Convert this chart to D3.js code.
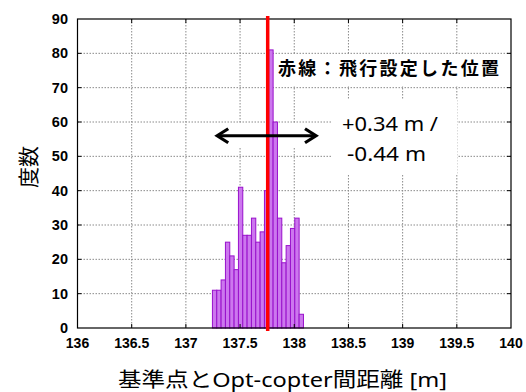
<!DOCTYPE html>
<html><head><meta charset="utf-8">
<script src="https://cdn.jsdelivr.net/npm/d3@7"></script>
<style>body{margin:0;background:#fff}svg{display:block}</style>
</head><body>
<script>
// ---- data ----
const binLower = [137.245,137.285,137.325,137.365,137.405,137.445,137.485,137.525,137.565,137.605,137.645,137.685,137.725,137.765,137.805,137.845,137.885,137.925,137.965,138.005,138.045];
const binWidth = 0.04;
const counts = [11,11,14,25,21,17,41,27,27,32,25,28,40,81,60,32,19,24,29,32,4];
const xTicks = [136,136.5,137,137.5,138,138.5,139,139.5,140];
const yTicks = [0,10,20,30,40,50,60,70,80,90];
const redLineX = 137.755;
const arrowRange = [137.28, 138.21];
const arrowY = 56;
const xTitle = "基準点とOpt-copter間距離 [m]";
const yTitle = "度数";
const noteText = "赤線：飛行設定した位置";
const rangeText = ["+0.34 m /", "-0.44 m"];

const W = 526, H = 392;
const svg = d3.select("body").append("svg").attr("width", W).attr("height", H);
const x = d3.scaleLinear().domain([136,140]).range([77.5,511]);
const y = d3.scaleLinear().domain([0,90]).range([328,19]);
const jp = "'Noto Sans','Noto Sans CJK JP',sans-serif";
const num = "'Liberation Sans',Arial,sans-serif";

// gridlines
const g = svg.append("g");
g.selectAll(".vg").data(xTicks.slice(1,-1)).join("line")
  .attr("x1", d=>x(d)).attr("x2", d=>x(d)).attr("y1", y(90)).attr("y2", y(0))
  .attr("stroke","#8a8a8a").attr("stroke-width",1).attr("stroke-dasharray","1.5,1.5");
g.selectAll(".hg").data(yTicks.slice(1,-1)).join("line")
  .attr("x1", x(136)).attr("x2", x(140)).attr("y1", d=>y(d)).attr("y2", d=>y(d))
  .attr("stroke","#8a8a8a").attr("stroke-width",1).attr("stroke-dasharray","1.5,1.5");

// white boxes behind annotations
svg.append("rect").attr("x",275).attr("y",55).attr("width",225).attr("height",31).attr("fill","#fff");
svg.append("rect").attr("x",332).attr("y",100).attr("width",125).attr("height",74).attr("fill","#fff");
svg.append("rect").attr("x",x(arrowRange[0])-10).attr("y",y(arrowY)-12).attr("width",x(arrowRange[1])-x(arrowRange[0])+20).attr("height",24).attr("fill","#fff");

// bars
svg.selectAll(".bar").data(counts).join("rect")
  .attr("x",(d,i)=>x(binLower[i]))
  .attr("width",(d,i)=>x(binLower[i]+binWidth)-x(binLower[i]))
  .attr("y",d=>y(d)).attr("height",d=>y(0)-y(d))
  .attr("fill","#cc77ee").attr("stroke","#9911cc").attr("stroke-width",1);

// frame
svg.append("rect").attr("x",x(136)).attr("y",y(90)).attr("width",x(140)-x(136)).attr("height",y(0)-y(90))
  .attr("fill","none").attr("stroke","#000").attr("stroke-width",1.2);

// ticks (inward)
const tk = svg.append("g").attr("stroke","#000").attr("stroke-width",1);
xTicks.slice(1,-1).forEach(d=>{
  tk.append("line").attr("x1",x(d)).attr("x2",x(d)).attr("y1",y(0)).attr("y2",y(0)-4);
  tk.append("line").attr("x1",x(d)).attr("x2",x(d)).attr("y1",y(90)).attr("y2",y(90)+4);
});
yTicks.slice(1,-1).forEach(d=>{
  tk.append("line").attr("x1",x(136)).attr("x2",x(136)+4).attr("y1",y(d)).attr("y2",y(d));
  tk.append("line").attr("x1",x(140)).attr("x2",x(140)-4).attr("y1",y(d)).attr("y2",y(d));
});

// tick labels
svg.selectAll(".xl").data(xTicks).join("text")
  .attr("x",d=>x(d)).attr("y",348).attr("text-anchor","middle")
  .attr("font-family",num).attr("font-weight","bold").attr("font-size",14).text(d=>d);
svg.selectAll(".yl").data(yTicks).join("text")
  .attr("x",68).attr("y",d=>y(d)+5).attr("text-anchor","end")
  .attr("font-family",num).attr("font-weight","bold").attr("font-size",14.5).text(d=>d);

// red line
svg.append("line").attr("x1",x(redLineX)).attr("x2",x(redLineX)).attr("y1",16).attr("y2",331)
  .attr("stroke","#ff0000").attr("stroke-width",3.5);

// arrow
const ay = y(arrowY), ax0 = x(arrowRange[0]), ax1 = x(arrowRange[1]);
svg.append("line").attr("x1",ax0+2).attr("x2",ax1-2).attr("y1",ay).attr("y2",ay).attr("stroke","#000").attr("stroke-width",3);
svg.append("path").attr("d",`M${ax0+12},${ay-7} L${ax0+1},${ay} L${ax0+12},${ay+7}`)
  .attr("fill","none").attr("stroke","#000").attr("stroke-width",3.2).attr("stroke-linejoin","miter");
svg.append("path").attr("d",`M${ax1-12},${ay-7} L${ax1-1},${ay} L${ax1-12},${ay+7}`)
  .attr("fill","none").attr("stroke","#000").attr("stroke-width",3.2).attr("stroke-linejoin","miter");

// annotations
svg.append("text").attr("x",278).attr("y",75).attr("font-family",jp).attr("font-weight","bold")
  .attr("font-size",18).attr("textLength",221).attr("lengthAdjust","spacing").text(noteText);
svg.append("text").attr("x",342).attr("y",131).attr("font-family",jp).attr("font-size",20)
  .attr("textLength",96).attr("lengthAdjust","spacingAndGlyphs").text(rangeText[0]);
svg.append("text").attr("x",347).attr("y",161).attr("font-family",jp).attr("font-size",20)
  .attr("textLength",79).attr("lengthAdjust","spacingAndGlyphs").text(rangeText[1]);

// axis titles
svg.append("text").attr("x",118).attr("y",387)
  .attr("font-family",jp).attr("font-size",20.5).attr("textLength",329).attr("lengthAdjust","spacingAndGlyphs").text(xTitle);
svg.append("text").attr("transform","translate(36,167) rotate(-90)").attr("text-anchor","middle")
  .attr("font-family",jp).attr("font-size",21).text(yTitle);
</script>
</body></html>
